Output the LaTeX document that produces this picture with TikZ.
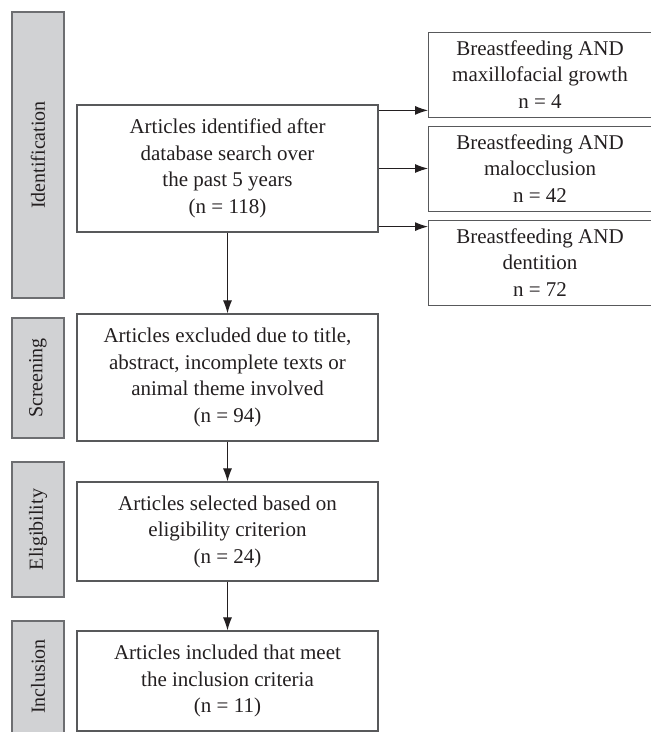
\documentclass[tikz,border=0pt]{standalone}
\usepackage{fontspec}
\setmainfont{Liberation Serif}
\usetikzlibrary{arrows.meta,calc}
\definecolor{barfill}{HTML}{D1D2D4}
\definecolor{barline}{HTML}{6D6E71}
\definecolor{boxline}{HTML}{58595B}
\definecolor{ink}{HTML}{231F20}
\tikzset{
  stagebar/.style={draw=barline, fill=barfill, line width=1.3pt, inner sep=0pt},
  stagelabel/.style={rotate=90, text=ink, font=\fontsize{20}{24}\selectfont},
  flowbox/.style={draw=boxline, line width=1.2pt, inner sep=0pt, align=center, text=ink,
    font=\fontsize{21}{26.5}\selectfont},
  boxtext/.style={align=center, text=ink, font=\fontsize{21}{26.5}\selectfont},
  arr/.style={draw=ink, line width=1pt, -{Latex[length=13pt,width=9pt]}}
}
\begin{document}
\begin{tikzpicture}[x=1pt,y=-1pt]
\useasboundingbox (0,0) rectangle (651,732);
\clip (0,0) rectangle (651,732);
% stage bars
\draw[stagebar] (12,12) rectangle (64,298);
\node[stagelabel] (lid) at (38,155) {Identification};
\draw[stagebar] (12,318) rectangle (64,438);
\node[stagelabel] (lsc) at (38,378) {Screening};
\draw[stagebar] (12,462) rectangle (64,597);
\node[stagelabel] (lel) at (38,529.5) {Eligibility};
\draw[stagebar] (12,621) rectangle (64,745);
\node[stagelabel] (lin) at (38,676.5) {Inclusion};
% main boxes
\node[flowbox, minimum width=301pt, minimum height=127pt] (b1) at (227.5,168.5)
  {Articles identified after\\database search over\\the past 5 years\\(n = 118)};
\node[flowbox, minimum width=301pt, minimum height=127pt] (b2) at (227.5,377.5)
  {Articles excluded due to title,\\abstract, incomplete texts or\\animal theme involved\\(n = 94)};
\node[flowbox, minimum width=301pt, minimum height=99pt] (b3) at (227.5,531.5)
  {Articles selected based on\\eligibility criterion\\(n = 24)};
\node[flowbox, minimum width=301pt, minimum height=100pt] (b4) at (227.5,681)
  {Articles included that meet\\the inclusion criteria\\(n = 11)};
% right boxes
\node[flowbox, minimum width=240pt, minimum height=85pt, anchor=north west] (rA) at (428,32) {};
\node[flowbox, minimum width=240pt, minimum height=85pt, anchor=north west] (rB) at (428,126) {};
\node[flowbox, minimum width=240pt, minimum height=85pt, anchor=north west] (rC) at (428,220) {};
\node[boxtext] (tA) at (540,74.5) {Breastfeeding AND\\maxillofacial growth\\n = 4};
\node[boxtext] (tB) at (540,168.5) {Breastfeeding AND\\malocclusion\\n = 42};
\node[boxtext] (tC) at (540,262.5) {Breastfeeding AND\\dentition\\n = 72};
% arrows
\draw[arr] ([yshift=-6pt]b1.north east) -- ([yshift=-6pt]b1.north east -| rA.west);
\draw[arr] (b1.east) -- (b1.east -| rB.west);
\draw[arr] ([yshift=6pt]b1.south east) -- ([yshift=6pt]b1.south east -| rC.west);
\draw[arr] (b1.south) -- (b2.north);
\draw[arr] (b2.south) -- (b3.north);
\draw[arr] (b3.south) -- (b4.north);
\end{tikzpicture}
\end{document}
